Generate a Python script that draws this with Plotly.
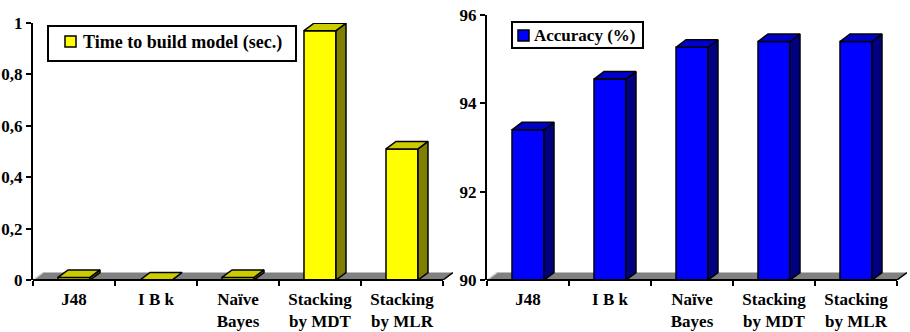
import plotly.graph_objects as go

# ---------------- data ----------------
categories = ["J48", "I B k", "Naïve<br>Bayes", "Stacking<br>by MDT", "Stacking<br>by MLR"]
time_values = [0.01, 0.0, 0.01, 0.97, 0.51]
accuracy_values = [93.40, 94.55, 95.27, 95.40, 95.40]
time_ticks = [0, 0.2, 0.4, 0.6, 0.8, 1]
time_tick_labels = ["0", "0,2", "0,4", "0,6", "0,8", "1"]
acc_ticks = [90, 92, 94, 96]
acc_tick_labels = ["90", "92", "94", "96"]
time_name = "Time to build model (sec.)"
acc_name = "Accuracy (%)"

# ---------------- geometry / style ----------------
W, H = 910, 332
FONT = "Liberation Serif, Times New Roman, Times, DejaVu Serif, serif"
DEPTH_X, DEPTH_Y = 10.0, 7.5     # px, 3D depth offset
BAR_W_PX = 32.0

panels = [
    dict(values=time_values, ticks=time_ticks, ticklabels=time_tick_labels,
         yrange=(0, 1), x0=33, x1=443, ytop=23, ybot=280,
         front="#FFFF00", top="#CCCC00", side="#808000",
         name=time_name, leg_box=(48, 26, 296, 61), leg_sym=(65, 36, 76, 47),
         leg_text=(82, 42.5), leg_size=18),
    dict(values=accuracy_values, ticks=acc_ticks, ticklabels=acc_tick_labels,
         yrange=(90, 96), x0=487, x1=897, ytop=15, ybot=280,
         front="#0000FF", top="#0000CC", side="#000080",
         name=acc_name, leg_box=(512, 22, 643, 48), leg_sym=(518, 30, 529, 41),
         leg_text=(533, 35.5), leg_size=17),
]

def px_x(p):
    return p / W

def px_y(p):
    return 1 - p / H

fig = go.Figure()
shapes = []
annotations = []
n = len(categories)
idx = list(range(n))

for k, P in enumerate(panels):
    sfx = "" if k == 0 else str(k + 1)
    xa, ya = "x" + sfx, "y" + sfx
    base = P["yrange"][0]
    ppu_x = (P["x1"] - P["x0"]) / n
    ppu_y = (P["ybot"] - P["ytop"]) / (P["yrange"][1] - P["yrange"][0])
    dx = DEPTH_X / ppu_x
    dy = DEPTH_Y / ppu_y
    bw = BAR_W_PX / ppu_x
    xmax = n - 0.5 + dx

    # floor
    shapes.append(dict(type="path", xref=xa, yref=ya, layer="below",
                       path=f"M{-0.5},{base} L{n-0.5},{base} L{n-0.5+dx},{base+dy} L{-0.5+dx},{base+dy} Z",
                       fillcolor="#808080", line=dict(width=0)))
    shapes.append(dict(type="line", xref=xa, yref=ya, layer="below",
                       x0=-0.5, y0=base, x1=-0.5 + dx, y1=base + dy,
                       line=dict(color="#d8d8d8", width=1.5)))
    shapes.append(dict(type="line", xref=xa, yref=ya, layer="below",
                       x0=n - 0.5, y0=base, x1=n - 0.5 + dx, y1=base + dy,
                       line=dict(color="black", width=1.5)))
    # x axis line (only across the categories)
    shapes.append(dict(type="line", xref="paper", yref="paper",
                       x0=px_x(P["x0"]), x1=px_x(P["x1"]), y0=px_y(P["ybot"]), y1=px_y(P["ybot"]),
                       line=dict(color="black", width=2)))

    # front faces
    fig.add_trace(go.Bar(x=idx, y=[v - base for v in P["values"]], base=base, width=bw,
                         marker=dict(color=P["front"], line=dict(color="black", width=1.5)),
                         showlegend=False, hoverinfo="skip", xaxis=xa, yaxis=ya))
    # top and side faces
    tx, ty, sx, sy = [], [], [], []
    for i, v in zip(idx, P["values"]):
        l, r = i - bw / 2, i + bw / 2
        tx += [l, r, r + dx, l + dx, l, None]
        ty += [v, v, v + dy, v + dy, v, None]
        sx += [r, r + dx, r + dx, r, r, None]
        sy += [base, base + dy, v + dy, v, base, None]
    fig.add_trace(go.Scatter(x=sx, y=sy, mode="lines", fill="toself", fillcolor=P["side"],
                             line=dict(color="black", width=1.5), showlegend=False,
                             hoverinfo="skip", xaxis=xa, yaxis=ya))
    fig.add_trace(go.Scatter(x=tx, y=ty, mode="lines", fill="toself", fillcolor=P["top"],
                             line=dict(color="black", width=1.5), showlegend=False,
                             hoverinfo="skip", xaxis=xa, yaxis=ya))

    axfont = dict(family=FONT, size=17, color="black", weight="bold")
    fig.update_layout(**{
        "xaxis" + sfx: dict(domain=[px_x(P["x0"]), px_x(P["x1"] + DEPTH_X)], range=[-0.5, xmax],
                            anchor=ya, showgrid=False, zeroline=False, showline=False,
                            automargin=False, ticklabelstandoff=7,
                            tickmode="array", tickvals=idx, ticktext=categories, ticks="",
                            tickfont=axfont, fixedrange=True,
                            minor=dict(tickmode="array", tickvals=[i - 0.5 for i in range(n + 1)],
                                       ticks="outside", ticklen=5, tickwidth=1.5, tickcolor="black",
                                       showgrid=False)),
        "yaxis" + sfx: dict(domain=[px_y(P["ybot"]), px_y(P["ytop"])], range=list(P["yrange"]),
                            anchor=xa, showgrid=False, zeroline=False, showline=True,
                            automargin=False,
                            linecolor="black", linewidth=2,
                            tickmode="array", tickvals=P["ticks"], ticktext=P["ticklabels"],
                            ticks="outside", ticklen=5, tickwidth=1.5, tickcolor="black",
                            tickfont=axfont, fixedrange=True),
    })

    # legend box
    bx0, by0, bx1, by1 = P["leg_box"]
    shapes.append(dict(type="rect", xref="paper", yref="paper",
                       x0=px_x(bx0), x1=px_x(bx1), y0=px_y(by1), y1=px_y(by0),
                       fillcolor="white", line=dict(color="black", width=2)))
    sx0, sy0, sx1, sy1 = P["leg_sym"]
    shapes.append(dict(type="rect", xref="paper", yref="paper",
                       x0=px_x(sx0), x1=px_x(sx1), y0=px_y(sy1), y1=px_y(sy0),
                       fillcolor=P["front"], line=dict(color="black", width=1.5)))
    tx0, ty0 = P["leg_text"]
    annotations.append(dict(xref="paper", yref="paper", x=px_x(tx0), y=px_y(ty0),
                            xanchor="left", yanchor="middle", showarrow=False, text=P["name"],
                            borderpad=0,
                            font=dict(family=FONT, size=P["leg_size"], color="black", weight="bold")))

fig.update_layout(width=W, height=H, margin=dict(l=0, r=0, t=0, b=0, autoexpand=False),
                  paper_bgcolor="white", plot_bgcolor="white",
                  barmode="overlay", shapes=shapes, annotations=annotations,
                  showlegend=False, font=dict(family=FONT))

POST = """
var gd = document.getElementById('{plot_id}');
document.documentElement.style.margin='0';
document.documentElement.style.padding='0';
document.documentElement.style.overflow='hidden';
document.body.style.margin='0';
document.body.style.padding='0';
document.body.style.overflow='hidden';
gd.style.position='fixed';
gd.style.left='0px';
gd.style.top='0px';
"""

fig.write_html(
    "out.html",
    config={"responsive": False, "displayModeBar": False},
    post_script=POST,
)
